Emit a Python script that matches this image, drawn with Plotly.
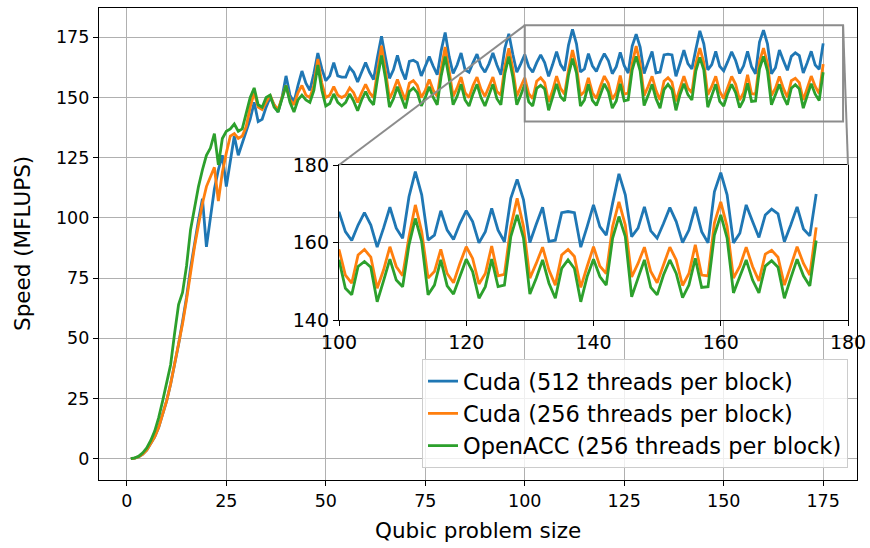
import plotly.graph_objects as go

# ---- data ---------------------------------------------------------------
problem_size = list(range(1, 176))

cuda_512 = [
    0, 0.2, 0.8, 1.8, 3.5, 6, 9, 13, 18, 24, 31, 39, 47.5, 57, 67, 79, 90, 99,
    108, 88, 100, 112, 120, 126, 113, 124, 134, 126, 131, 136, 141,
    148, 140, 141, 146, 150, 147, 144, 150, 159, 151, 148, 155, 161, 156, 153, 160,
    168.5, 162, 157, 159, 164.5, 159, 158.5, 158.5, 162.5, 160.5, 156.5, 160.5, 164.5,
    160.5, 157.5, 167, 175.5, 166.5, 158, 161.5, 167.5, 161.5, 157.5, 165, 165.5, 164.5,
    159, 163, 167, 163, 159.5, 169.5, 177, 167, 160, 163.5, 168.5, 161.5, 160.5, 164.5,
    168, 163, 160.5, 164, 168.5, 163.5, 159.5, 170.5, 176.5, 168, 160.5, 164,
    167.9, 162.8, 160.5, 164.5, 167.7, 164.5, 158.8, 163.7, 169.1, 163.7, 161.1, 171.8,
    178.3, 172.3, 160.6, 161.9, 168.2, 163.2, 160.8, 164.9, 168.2, 165.4, 159.9, 162.8,
    168.8, 163.2, 160.2, 171.4, 176.3, 171, 160, 164.7, 169.1, 160.3, 160.6, 167.7,
    168, 167.7, 158.8, 164.1, 169.7, 164.1, 161.9, 170.1, 177.7, 172.3, 161.5, 163.7,
    169.2, 163, 161.1, 164.9, 169, 165.4, 160, 163.2, 169.2, 162.8, 159.9, 173.1,
    178, 172.3, 159.9, 162.4, 169.7, 165.4, 161.3, 167.1, 168.6, 167.4, 160.2, 164.5,
    169.2, 163.5, 161.7, 172.5,
]

cuda_256 = [
    0, 0.2, 0.8, 1.8, 3.5, 6, 9, 13, 18, 24, 31, 39, 47, 56, 66, 78, 88,
    97, 106, 113, 117, 121, 107, 119, 127, 134, 135, 133, 134, 138, 146,
    152, 146, 145, 148, 151, 147, 145, 150, 155, 149, 147, 152, 155, 151, 150, 155,
    166, 156, 150, 151, 154.5, 151, 150, 151, 154, 152, 148, 152, 155.5, 152, 150, 161,
    171.5, 161, 149.5, 153, 157.5, 153, 149, 156, 157, 155, 150, 153, 157.5, 153, 150.5,
    162, 171, 161, 150.5, 154, 158.5, 152, 150, 155, 158.5, 153.5, 150.5, 154.5, 158.5,
    152.5, 151, 163, 170.5, 162, 150.5, 154.5,
    158.2, 151.6, 149.5, 156.8, 158.2, 156.2, 148.2, 152.9, 158.9, 153.8, 151.4, 161.5,
    169.7, 162.8, 150.8, 152.5, 158.2, 152, 149.6, 154.6, 158.9, 155.9, 149.3, 152,
    159.1, 151.4, 151.8, 164.1, 171.4, 164.1, 150.8, 154.6, 158.8, 152.9, 149, 156.8,
    158.2, 156.4, 148.4, 153.8, 158.9, 153.9, 152, 164.1, 170.5, 164.5, 151.1, 154.6,
    158.8, 152.5, 149.6, 154.2, 158.8, 155.5, 148.9, 152, 159.4, 151.6, 151.4, 165,
    170.5, 164.1, 150.8, 153.9, 158.8, 153.8, 150.1, 157, 158, 156.2, 149, 153.9,
    158.9, 154.6, 151.6, 163.9,
]

openacc_256 = [
    0, 0.3, 1, 2.4, 4.4, 7.5, 11.4, 17, 24, 31, 39, 52, 64, 69, 80, 95, 104,
    113, 120, 126, 129, 135, 122, 133, 136, 137, 139, 136, 137, 143, 150,
    154, 147, 146, 150, 151, 146, 144, 149, 155, 148, 144, 149, 151, 149, 148, 153,
    163.5, 153, 146.5, 147.5, 151.5, 148, 146.5, 148, 151.5, 148.5, 144.5, 149, 152.5,
    149, 147, 158, 167.5, 158, 146, 149.5, 154.5, 150, 145.5, 152.5, 154, 152, 146.5,
    150, 154.5, 150, 147, 159, 167, 158, 147, 150.5, 155.5, 149, 146.5, 151.5, 155.5,
    150, 146.5, 151, 155.5, 149.5, 147, 160, 167, 158.5, 147, 151,
    155.5, 148.2, 146.5, 153.8, 155.1, 153.6, 144.7, 150.1, 155.7, 150.3, 148.6, 159.4,
    166.2, 160.2, 146.5, 149, 155.5, 148.8, 146.7, 151.2, 155.7, 152.5, 145.6, 148.6,
    155.7, 148.6, 149, 161.5, 167.1, 161.1, 146.7, 150.8, 155.5, 149.5, 145.6, 153.3,
    155.5, 153.3, 144.7, 151.2, 155.7, 151.2, 149, 161.1, 166.7, 161.5, 146, 150.8,
    155.5, 148.4, 146.5, 151.6, 155.5, 152, 145.8, 149, 155.9, 148.4, 148.6, 161.9,
    167.1, 161.1, 147, 151.2, 155.5, 150.3, 147, 153.9, 155.3, 153.6, 145.6, 150.8,
    155.7, 151.4, 148.8, 160.5,
]

series_names = [
    "Cuda (512 threads per block)",
    "Cuda (256 threads per block)",
    "OpenACC (256 threads per block)",
]
series_colors = ["#1f77b4", "#ff7f0e", "#2ca02c"]

main_ticks = [0, 25, 50, 75, 100, 125, 150, 175]
inset_x_ticks = [100, 120, 140, 160, 180]
inset_y_ticks = [140, 160, 180]

# ---- geometry -----------------------------------------------------------
W, H = 870, 548
FONT = "DejaVu Sans"

main_x_range = [-7.0, 183.5]
main_y_range = [-8.9, 187.2]
main_x_dom = [99 / W, 857 / W]
main_y_dom = [1 - 480 / H, 1 - 8 / H]

zoom_x_range = [100, 180]
zoom_y_range = [140, 180]
zoom_x_dom = [339 / W, 848 / W]
zoom_y_dom = [1 - 320 / H, 1 - 165 / H]


def paper_x(v):
    r, d = main_x_range, main_x_dom
    return d[0] + (v - r[0]) / (r[1] - r[0]) * (d[1] - d[0])


def paper_y(v):
    r, d = main_y_range, main_y_dom
    return d[0] + (v - r[0]) / (r[1] - r[0]) * (d[1] - d[0])


fig = go.Figure()

all_series = [cuda_512, cuda_256, openacc_256]
for name, color, vals in zip(series_names, series_colors, all_series):
    fig.add_trace(go.Scatter(
        x=problem_size, y=vals, mode="lines", name=name,
        line=dict(color=color, width=2.8),
        xaxis="x", yaxis="y",
    ))

for name, color, vals in zip(series_names, series_colors, all_series):
    fig.add_trace(go.Scatter(
        x=problem_size, y=vals, mode="lines", name=name, showlegend=False,
        line=dict(color=color, width=2.8),
        xaxis="x2", yaxis="y2",
    ))

axis_common = dict(
    showline=True, mirror=True, linecolor="black", linewidth=1.3,
    ticks="outside", ticklen=5, tickwidth=1.3, tickcolor="black",
    showgrid=True, gridcolor="#b0b0b0", gridwidth=1.2,
    zeroline=False, automargin=False,
)

fig.update_layout(
    template="none",
    width=W, height=H,
    margin=dict(l=0, r=0, t=0, b=0),
    paper_bgcolor="white", plot_bgcolor="white",
    font=dict(family=FONT, color="black"),
    hovermode=False,
    xaxis=dict(
        domain=main_x_dom, range=main_x_range, anchor="y",
        tickvals=main_ticks, tickfont=dict(size=17.5, family=FONT),
        **axis_common,
    ),
    yaxis=dict(
        domain=main_y_dom, range=main_y_range, anchor="x",
        tickvals=main_ticks, tickfont=dict(size=17.5, family=FONT),
        **axis_common,
    ),
    xaxis2=dict(
        domain=zoom_x_dom, range=zoom_x_range, anchor="y2",
        tickvals=inset_x_ticks, tickfont=dict(size=19, family=FONT),
        **axis_common,
    ),
    yaxis2=dict(
        domain=zoom_y_dom, range=zoom_y_range, anchor="x2",
        tickvals=inset_y_ticks, tickfont=dict(size=19, family=FONT),
        **axis_common,
    ),
    legend=dict(
        x=848 / W, y=1 - 468 / H, xanchor="right", yanchor="bottom",
        bgcolor="rgba(255,255,255,0.8)", bordercolor="#cccccc", borderwidth=1,
        font=dict(size=22.5, family=FONT),
    ),
)

# zoom region rectangle and its connectors to the inset
fig.add_shape(
    type="rect", xref="x", yref="y",
    x0=zoom_x_range[0], x1=zoom_x_range[1], y0=zoom_y_range[0], y1=zoom_y_range[1],
    line=dict(color="#8c8c8c", width=2), layer="above",
)
fig.add_shape(
    type="line", xref="paper", yref="paper",
    x0=paper_x(zoom_x_range[0]), y0=paper_y(zoom_y_range[1]),
    x1=zoom_x_dom[0], y1=zoom_y_dom[1],
    line=dict(color="#8c8c8c", width=2), layer="above",
)
fig.add_shape(
    type="line", xref="paper", yref="paper",
    x0=paper_x(zoom_x_range[1]), y0=paper_y(zoom_y_range[1]),
    x1=zoom_x_dom[1], y1=zoom_y_dom[1],
    line=dict(color="#8c8c8c", width=2), layer="above",
)

# axis titles
fig.add_annotation(
    text="Qubic problem size", xref="paper", yref="paper",
    x=(main_x_dom[0] + main_x_dom[1]) / 2, y=1 - 530 / H,
    showarrow=False, font=dict(size=21.5, family=FONT),
    xanchor="center", yanchor="middle",
)
fig.add_annotation(
    text="Speed (MFLUPS)", xref="paper", yref="paper",
    x=22 / W, y=(main_y_dom[0] + main_y_dom[1]) / 2,
    showarrow=False, textangle=-90, font=dict(size=21.5, family=FONT),
    xanchor="center", yanchor="middle",
)

fig.write_html("out.html")
